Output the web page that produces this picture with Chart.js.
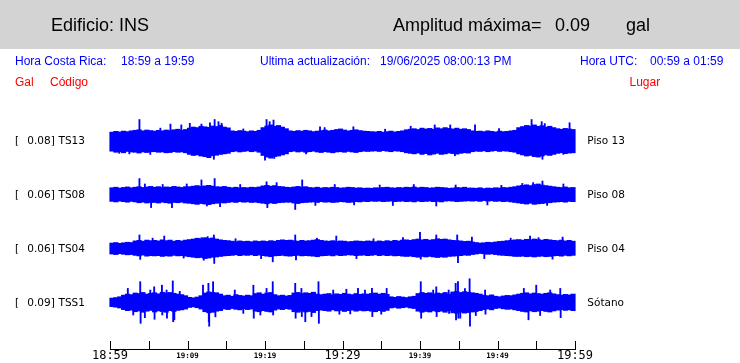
<!DOCTYPE html>
<html><head><meta charset="utf-8">
<script src="https://cdn.jsdelivr.net/npm/chart.js@4.4.1/dist/chart.umd.min.js"></script>
<style>
html,body{margin:0;padding:0;background:#fff;}
#wrap{position:relative;width:740px;height:363px;overflow:hidden;}
#hdr{position:absolute;left:0;top:0;width:740px;height:49px;background:#d3d3d3;}
.t{position:absolute;white-space:pre;line-height:1;}
.h{font:18px "Liberation Sans",Arial,sans-serif;color:#000;}
.b{font:12px "Liberation Sans",Arial,sans-serif;color:#0000ff;}
.r{font:12px "Liberation Sans",Arial,sans-serif;color:#ff0000;}
.k{font:10.5px "DejaVu Sans",sans-serif;color:#000;}
canvas{position:absolute;left:0;top:0;}
</style></head>
<body>
<div id="wrap">
<div id="hdr"></div>
<canvas id="c" width="740" height="363"></canvas>
<div class="t h" style="left:51px;top:15px">Edificio: INS</div>
<div class="t h" style="left:393px;top:15px">Amplitud máxima=</div>
<div class="t h" style="left:555px;top:15px">0.09</div>
<div class="t h" style="left:626px;top:15px">gal</div>
<div class="t b" style="left:15px;top:54.3px">Hora Costa Rica:</div>
<div class="t b" style="left:121px;top:54.3px">18:59 a 19:59</div>
<div class="t b" style="left:260px;top:54.3px">Ultima actualización:</div>
<div class="t b" style="left:380px;top:54.3px">19/06/2025 08:00:13 PM</div>
<div class="t b" style="left:580px;top:54.3px">Hora UTC:</div>
<div class="t b" style="left:650px;top:54.3px">00:59 a 01:59</div>
<div class="t r" style="left:15px;top:74.5px">Gal</div>
<div class="t r" style="left:50px;top:74.5px">Código</div>
<div class="t r" style="left:629.5px;top:74.5px">Lugar</div>
</div>
<script>
// ---- data (amplitudes in mgal, 0.5-minute bins from 18:59) ----
const tickLabels = ['18:59','','19:09','','19:19','','19:29','','19:39','','19:49','','19:59'];
const bigTickLabels = ['18:59','19:29','19:59'];
const binMinutes = 0.5;
const traceCodes = ['TS13','TS08','TS04','TSS1'];
const tracePlaces = ['Piso 13','Piso 08','Piso 04','Sótano'];
const traceMax = ['0.08','0.06','0.06','0.09'];

const ts13Hi = [33,36,34,37,35,38, 40,42,38,41,39, 37,40,38,41,39,42,44,40,43, 48,52,50,55,53,51,56,54,58,52,49, 38,36,39,37,35,38,36,40, 50,56,60,55,58,52,46, 38,36,39,37,40,38,35,37,39,41,38,40,43,45,41,38,40,42,39,37,36, 35,34,36,33,35,37,34,36,38, 42,44,46,43,48,45,47,44,49,46,50,47,45,48,44,46,43, 38,36,37,35,38,36,34,37,35,36,38,40, 50,54,58,56,60,55,57,52,55,50, 46,44,47,45,43];
const ts13Lo = [38,42,40,44,39,41, 42,45,41,43,40, 40,42,41,44,43,40,42,41,44, 50,54,52,56,58,62,55,53,50,48,46, 40,38,41,39,37,40,38,42, 54,60,64,58,56,52,48, 40,38,41,39,42,40,38,41,43,40,42,44,41,40,42,39,41,43,40,38,39, 38,37,39,36,38,40,37,38,40, 44,46,48,45,50,47,52,49,46,50,48,45,47,49,46,44,45, 40,38,39,37,40,38,36,39,37,38,40,42, 48,52,56,54,58,60,56,52,54,50, 46,44,47,45,44];
const ts13Spikes = [[1.2,-46],[2.5,-48],[3.8,80],[5.2,-50],[6.5,48],[7.8,63],[9.2,60],[10.3,66],[11.8,63],[12.3,-58],[12.9,68],[13.4,-68],[13.5,80],[14.0,72],[14.4,66],[17.2,45],[20.0,-71],[20.2,80],[20.6,72],[21.1,78],[21.2,-65],[25.3,-48],[27.1,53],[27.7,50],[31.4,53],[35.5,44],[38.8,55],[41.9,60],[43.9,60],[44.5,-55],[47.1,60],[50.2,46],[54.4,80],[54.6,-58],[55.7,72],[55.8,-68],[56.1,65],[58.5,-50],[59.3,68]];

const ts08Hi = [26,28,25,27,29,26, 28,30,27,29,31, 28,30,27,29,28,31,29,27,30, 30,32,34,31,33,35,32,30,29,31,28, 26,28,25,27,26,28,27,29, 33,35,32,34,31,30,28, 27,29,31,28,30,27,26,28,25,27,26,28,27,25,26,28,27,25,26,24,25, 24,26,25,27,28,26,25,27,26, 28,27,29,26,28,27,25,26,28,27,26,24,25,27,26,28,25, 25,24,26,23,25,24,26,25,27,26,28,30, 33,35,37,34,38,40,36,34,32,30, 28,27,29,26,27];
const ts08Lo = [25,27,24,26,28,25, 27,30,28,31,29, 29,31,28,30,32,29,30,28,31, 32,34,36,33,35,37,34,32,30,31,29, 27,29,26,28,27,29,28,30, 32,34,31,33,30,29,28, 28,31,33,30,29,28,27,29,26,28,27,29,28,26,27,29,28,26,27,25,26, 24,25,24,26,25,24,26,25,24, 26,25,27,24,26,25,24,26,25,27,24,23,24,26,25,24,23, 24,23,25,22,24,23,25,24,26,25,27,29, 31,33,35,32,36,34,33,31,30,28, 27,26,28,25,26];
const ts08Spikes = [[3.8,60],[4.5,40],[5.3,-48],[6.8,38],[8.0,-48],[9.9,40],[11.8,55],[12.5,-42],[13.5,60],[14.2,-45],[16.8,38],[20.2,48],[20.3,-48],[21.5,45],[23.9,-55],[24.8,55],[26.5,-40],[29.0,38],[31.5,-38],[34.8,36],[36.5,-40],[39.2,38],[42.1,-42],[44.6,36],[48.7,-38],[50.5,35],[53.2,42],[54.6,45],[55.8,51],[56.4,-40],[58.5,40]];

const ts04Hi = [20,22,19,21,23,22, 28,30,27,31,29, 30,28,32,29,31,27,30,28,31, 33,35,38,36,40,37,39,35,32,30,29, 27,25,28,26,27,25,28,26, 28,26,29,27,30,32,30, 31,29,27,30,28,29,31,33,30,28,27,29,26,28,27,25,26,28,27,26,28, 27,25,28,26,29,27,30,28,31, 32,30,33,35,32,34,31,33,36,34,35,32,30,29,28,26,27, 24,22,20,21,23,22,24,26,27,29,30,32, 33,31,34,32,35,33,31,34,32,30, 29,31,28,30,27];
const ts04Lo = [21,23,20,22,24,23, 26,28,25,29,27, 28,27,30,28,29,26,28,27,29, 31,33,35,34,38,36,33,32,30,28,27, 26,24,27,25,26,24,27,25, 27,29,31,28,27,26,28, 29,27,26,28,27,28,29,31,28,27,26,28,25,27,26,24,25,27,26,25,27, 26,24,27,25,27,26,28,27,29, 30,29,31,33,30,32,30,32,34,32,33,30,29,28,27,25,26, 23,21,19,20,22,21,23,25,26,27,28,30, 30,29,31,30,32,30,29,31,30,28, 27,29,26,28,26];
const ts04Spikes = [[3.8,50],[3.9,-41],[5.5,38],[7.0,46],[9.5,-36],[11.8,40],[12.1,-44],[12.6,44],[13.4,50],[13.45,-56],[16.2,36],[19.5,-38],[21.0,-50],[23.9,50],[24.0,-43],[26.7,38],[29.2,46],[31.8,-38],[34.0,36],[37.8,40],[40.0,60],[40.1,-40],[42.1,50],[44.8,50],[44.9,-53],[46.7,42],[48.3,-38],[51.7,38],[54.2,46],[55.3,40],[57.1,-40],[58.4,42]];

const tss1Hi = [15,17,20, 26,30,28,34,32,36,30,33,35,31,37,34,36,33,30,28,24, 18,16,19,24, 34,38,36,35,30, 24,26,22,28,25,23,26,24, 32,35,30,34,36,28, 24,26,23,25, 34,36,32,35,33,37,30, 28,30,32,27,31,29,33,30,28,32,29,31,30, 32,34,30,33,29, 20,18,21,19,17,20,22, 32,36,33,35,31,34,32,36,30, 38,40,36,39,37,35,33,30, 26,24,27,22,20,23,25,24,27, 30,33,35,31,34,32,30,33,35,31, 28,26,29,27,30];
const tss1Lo = [17,19,22, 28,32,30,36,33,38,34,31,37,33,35,38,32,35,31,29,26, 20,18,21,26, 36,40,38,34,32, 26,28,24,27,29,25,28,26, 34,36,32,35,37,30, 26,28,25,27, 36,38,34,37,35,39,32, 30,32,34,29,33,31,35,32,30,34,31,33,32, 34,36,32,35,31, 22,20,23,21,19,22,24, 34,38,35,37,33,36,34,38,32, 40,42,38,41,39,37,35,32, 28,26,29,24,22,25,27,26,29, 32,35,37,33,36,34,32,35,37,33, 30,28,31,29,32];
const tss1Spikes = [[2.3,51],[3.0,-48],[3.9,76],[3.95,-79],[4.5,-58],[5.2,45],[5.7,57],[5.75,-64],[6.7,63],[6.75,-48],[7.3,45],[7.35,-60],[8.1,79],[8.15,-73],[8.3,-66],[9.0,40],[12.0,63],[12.7,70],[12.75,-73],[12.8,-90],[13.3,76],[13.6,-55],[16.1,45],[17.2,-42],[18.5,63],[18.55,-60],[19.4,-48],[20.2,51],[21.0,76],[21.05,-48],[23.9,70],[23.95,-60],[24.7,51],[24.75,-54],[25.2,-73],[26.0,-54],[26.9,76],[26.95,-79],[28.8,45],[29.6,-45],[30.5,48],[31.0,-44],[32.0,51],[32.9,45],[33.8,51],[33.85,-54],[35.0,-45],[35.7,51],[40.1,76],[40.15,-60],[41.7,45],[42.1,57],[42.15,-54],[43.7,45],[43.75,-42],[44.6,70],[44.65,-66],[44.9,76],[44.95,-60],[45.2,-60],[45.8,50],[46.4,87],[46.45,-90],[47.2,-50],[48.4,45],[48.45,-45],[53.4,51],[54.0,-66],[55.0,63],[55.5,-50],[56.8,45],[58.1,51],[58.15,-58]];

// ---- layout / style ----
const rowBase = [0.8, 0.6, 0.4, 0.2];   // gal offset of each trace on the shared axis
const yMin = 0.02533, yMax = 0.90429;
const traceColor = '#0000ff';
const hiSets = [ts13Hi, ts08Hi, ts04Hi, tss1Hi];
const loSets = [ts13Lo, ts08Lo, ts04Lo, tss1Lo];
const spikeSets = [ts13Spikes, ts08Spikes, ts04Spikes, tss1Spikes];

const datasets = [];
for (let k = 0; k < 4; k++) {
  const base = rowBase[k];
  datasets.push({
    type: 'bar',
    data: hiSets[k].map((h, i) => ({ x: (i + 0.5) * binMinutes, y: [base - loSets[k][i] / 1000, base + h / 1000] })),
    backgroundColor: traceColor, borderWidth: 0, barThickness: 4.4, grouped: false, clip: false
  });
  datasets.push({
    type: 'bar',
    data: spikeSets[k].map(([t, v]) => ({ x: t, y: v > 0 ? [base, base + v / 1000] : [base + v / 1000, base] })),
    backgroundColor: traceColor, borderWidth: 0, barThickness: 1.2, grouped: false, clip: false
  });
}

const upTicks = {
  id: 'upTicks',
  afterDraw(chart) {
    const xs = chart.scales.x, ctx = chart.ctx, b = chart.chartArea.bottom;
    ctx.save();
    ctx.strokeStyle = '#000'; ctx.lineWidth = 1;
    ctx.beginPath();
    xs.ticks.forEach(t => {
      const px = Math.round(xs.getPixelForValue(t.value)) + 0.5;
      ctx.moveTo(px, b); ctx.lineTo(px, b - 8);
    });
    ctx.stroke();
    ctx.restore();
  }
};

const chart = new Chart(document.getElementById('c'), {
  data: { datasets },
  plugins: [upTicks],
  options: {
    responsive: false, animation: false, devicePixelRatio: 1, events: [],
    layout: { padding: { left: 110, right: 165, top: 113, bottom: 0 } },
    plugins: { legend: { display: false }, tooltip: { enabled: false } },
    scales: {
      x: {
        type: 'linear', min: 0, max: 60, offset: false,
        grid: { display: false, drawTicks: false, offset: false },
        border: { display: true, color: '#000', width: 1 },
        ticks: {
          stepSize: 5, autoSkip: false, maxRotation: 0, padding: 0, color: '#000',
          callback: (v) => tickLabels[Math.round(v / 5)] ?? '',
          font: (c) => {
            const lbl = c.tick ? tickLabels[Math.round(c.tick.value / 5)] : '';
            return bigTickLabels.includes(lbl)
              ? { family: 'DejaVu Sans Mono', size: 12, lineHeight: '14px' }
              : { family: 'DejaVu Sans Mono', size: 7.5, weight: 'bold', lineHeight: '14px' };
          }
        },
        afterFit: (s) => { s.height = 14; }
      },
      y: { type: 'linear', display: false, min: yMin, max: yMax }
    }
  }
});

// trace labels (left code with max amplitude, right location)
const wrap = document.getElementById('wrap');
const ys = chart.scales.y;
function addText(txt, left, top) {
  const d = document.createElement('div');
  d.className = 't k'; d.textContent = txt;
  d.style.left = left + 'px'; d.style.top = top + 'px';
  wrap.appendChild(d);
}
for (let k = 0; k < 4; k++) {
  const top = ys.getPixelForValue(rowBase[k]) - 6.6;
  addText('[', 15, top);
  addText(traceMax[k] + ']', 27.3, top);
  addText(traceCodes[k], 58.5, top);
  addText(tracePlaces[k], 587.3, top);
}
</script>
</body></html>
